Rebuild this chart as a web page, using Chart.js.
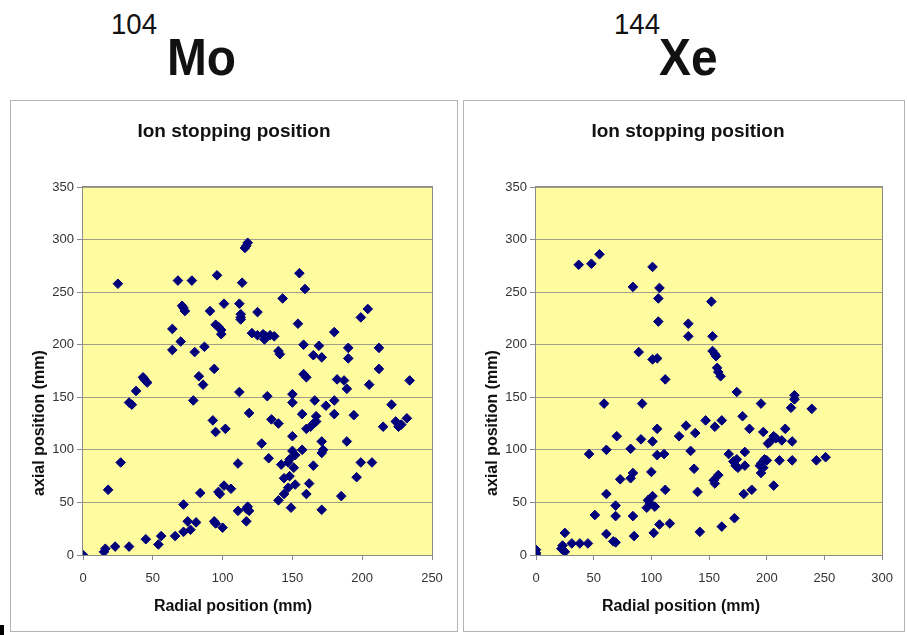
<!DOCTYPE html>
<html>
<head>
<meta charset="utf-8">
<script src="https://cdn.jsdelivr.net/npm/chart.js@4.4.1/dist/chart.umd.min.js"></script>
<style>
  body { margin: 0; background: #fff; width: 907px; height: 635px; position: relative; overflow: hidden; font-family: "Liberation Sans", Arial, sans-serif; }
  .mass { position: absolute; font-size: 30px; line-height: 1; color: #111; transform: scaleX(0.92); transform-origin: left top; }
  .elem { position: absolute; font-size: 52px; font-weight: bold; line-height: 1; color: #111; transform: scaleX(0.92); transform-origin: left top; }
  .box { position: absolute; top: 100px; height: 530px; border: 1px solid #b4b4b4; background: #fff; }
  .box canvas { display: block; }
  #mark { position: absolute; left: 0; top: 625px; width: 4px; height: 10px; background: #000; }
</style>
</head>
<body>
<span class="mass" style="left:111px; top:9px;">104</span>
<span class="elem" style="left:167px; top:31px;">Mo</span>
<span class="mass" style="left:614px; top:9px;">144</span>
<span class="elem" style="left:659px; top:31px;">Xe</span>

<div class="box" style="left:10px; width:446px;"><canvas id="moChart" width="446" height="530"></canvas></div>
<div class="box" style="left:463px; width:440px;"><canvas id="xeChart" width="440" height="530"></canvas></div>
<div id="mark"></div>

<script>
// Mo-104: posições de parada (radial mm, axial mm)
const moX = [0, 15, 16, 23, 33, 45, 54, 56, 66, 72, 77, 75, 81, 72, 84, 94, 95, 100, 97, 98, 101, 106, 111, 117, 117, 118, 119, 111, 27, 18,
  33, 35, 38, 43, 44, 46, 79, 83, 86, 93, 95, 102, 112, 119, 94, 118, 117, 116, 25, 68, 78, 96, 114, 71, 72, 73, 91, 101, 112,
  113, 113, 113, 125, 95, 97, 99, 99, 121, 125, 129, 131, 134, 137, 130, 64, 70, 64, 80, 87,
  155, 159, 143, 154, 204, 199, 180, 140, 141, 158, 169, 165, 171, 190, 190, 212, 212, 158, 160, 182, 187, 189, 205, 234,
  132, 150, 150, 166, 174, 180, 221, 157, 180, 194, 135, 140, 167, 167, 165, 163, 160, 215, 224, 226, 228, 232,
  128, 150, 171, 172, 171, 189, 157, 150, 152, 148, 147, 142, 151, 148, 144, 133, 165, 199, 207, 196, 162, 152, 147, 144, 140,
  160, 185, 149, 171];
const moY = [0, 3, 6, 8, 8, 15, 10, 18, 18, 22, 24, 32, 31, 48, 59, 32, 30, 26, 60, 58, 66, 63, 42, 32, 44, 46, 42, 87, 88, 62,
  145, 143, 156, 169, 167, 164, 147, 170, 162, 128, 117, 120, 155, 135, 177, 297, 294, 292, 258, 261, 261, 266, 259, 237, 235, 232, 232, 239, 239,
  229, 226, 224, 231, 219, 217, 214, 210, 211, 209, 210, 208, 209, 208, 205, 215, 203, 195, 193, 198,
  268, 253, 244, 220, 234, 226, 212, 194, 191, 200, 199, 190, 188, 197, 187, 197, 177, 172, 169, 167, 166, 158, 162, 166,
  151, 153, 145, 147, 142, 147, 143, 134, 134, 133, 129, 125, 132, 127, 125, 122, 120, 122, 127, 122, 124, 130,
  106, 113, 108, 100, 97, 108, 100, 99, 95, 91, 88, 86, 83, 75, 73, 92, 85, 88, 88, 74, 68, 67, 64, 58, 52,
  58, 56, 45, 43];

// Xe-144: posições de parada
const xeX = [0, 0, 0, 25, 23, 22, 25, 31, 38, 45, 37, 48, 55, 101, 84, 107, 106, 106, 132, 132, 89, 101, 105, 112, 152, 153,
  153, 155, 156, 157, 158, 160, 46, 59, 92, 70, 61, 82, 91, 101, 105, 124, 130, 105, 111, 73, 82, 84, 100, 61, 69, 51, 69, 84,
  101, 97, 99, 103, 96, 112, 61, 67, 69, 85, 102, 107, 116, 174, 195, 224, 224, 221, 239, 138, 147, 155, 161, 179, 185, 197,
  216, 206, 208, 203, 201, 213, 222, 134, 167, 181, 174, 171, 173, 175, 181, 198, 200, 195, 194, 197, 195, 211, 222, 243, 251,
  137, 158, 154, 155, 140, 180, 187, 206, 172, 161, 142];
const xeY = [0, 2, 5, 21, 9, 6, 3, 11, 11, 11, 276, 277, 286, 274, 255, 254, 244, 222, 220, 208, 193, 186, 187, 167, 241, 208,
  194, 191, 189, 178, 174, 170, 96, 144, 144, 113, 100, 101, 110, 108, 120, 113, 123, 95, 96, 72, 73, 78, 79, 58, 47, 38, 37, 37,
  56, 52, 49, 46, 45, 62, 20, 13, 12, 18, 21, 29, 30, 155, 144, 152, 148, 140, 139, 116, 128, 122, 128, 132, 120, 117,
  120, 113, 111, 108, 106, 109, 108, 99, 96, 98, 91, 89, 85, 83, 85, 91, 90, 87, 85, 83, 78, 90, 90, 90, 93,
  82, 76, 71, 68, 60, 58, 62, 66, 35, 27, 22];

const yTicksMax = 350;
const moXMax = 250;
const xeXMax = 300;

function toPoints(xs, ys) {
    return xs.map((x, i) => ({ x: x, y: ys[i] }));
}

// Fundo amarelo, borda da área e textos do painel
const panelPlugin = {
    id: 'panel',
    beforeDraw(chart) {
        const a = chart.chartArea;
        const ctx = chart.ctx;
        ctx.save();
        ctx.fillStyle = '#fffca0';
        ctx.fillRect(a.left, a.top, a.right - a.left, a.bottom - a.top);
        ctx.restore();
    },
    beforeDatasetsDraw(chart) {
        const a = chart.chartArea;
        const ctx = chart.ctx;
        ctx.save();
        ctx.strokeStyle = '#8a8a8a';
        ctx.lineWidth = 1;
        ctx.strokeRect(Math.round(a.left) - 0.5, Math.round(a.top) - 0.5, Math.round(a.right - a.left) + 1, Math.round(a.bottom - a.top) + 1);
        ctx.restore();
    },
    afterDraw(chart, args, opts) {
        const ctx = chart.ctx;
        ctx.save();
        ctx.fillStyle = '#111';
        ctx.textAlign = 'center';
        ctx.textBaseline = 'alphabetic';
        ctx.font = 'bold 19px "Liberation Sans", Arial, sans-serif';
        ctx.fillText(opts.title, opts.titleX, 36);
        ctx.font = 'bold 16px "Liberation Sans", Arial, sans-serif';
        ctx.fillText(opts.xTitle, opts.xTitleX, 510);
        ctx.translate(33, 322);
        ctx.rotate(-Math.PI / 2);
        ctx.fillText(opts.yTitle, 0, 0);
        ctx.restore();
    }
};

function buildChart(id, points, xMax, width, titleX, xTitleX) {
    const ctx = document.getElementById(id).getContext('2d');
    return new Chart(ctx, {
        type: 'scatter',
        data: {
            datasets: [{
                data: points,
                pointStyle: 'rectRot',
                pointRadius: 4.8,
                backgroundColor: '#00007a',
                borderColor: '#00007a',
                borderWidth: 1
            }]
        },
        options: {
            responsive: false,
            animation: false,
            layout: { padding: { top: 86, right: width - 421, bottom: 0, left: 0 } },
            plugins: {
                legend: { display: false },
                tooltip: { enabled: false },
                panel: {
                    title: 'Ion stopping position',
                    titleX: titleX,
                    xTitle: 'Radial position (mm)',
                    xTitleX: xTitleX,
                    yTitle: 'axial position (mm)'
                }
            },
            scales: {
                x: {
                    type: 'linear',
                    min: 0,
                    max: xMax,
                    afterFit: (s) => { s.height = 76; },
                    ticks: { stepSize: 50, color: '#333', padding: 11, font: { size: 13, family: '"Liberation Sans", Arial, sans-serif' } },
                    grid: { drawOnChartArea: false, drawTicks: true, tickLength: 5, color: '#8a8a8a' },
                    border: { display: false }
                },
                y: {
                    min: 0,
                    max: yTicksMax,
                    afterFit: (s) => { s.width = 72; },
                    ticks: { stepSize: 50, color: '#333', padding: 3, font: { size: 13, family: '"Liberation Sans", Arial, sans-serif' } },
                    grid: { color: '#a3a08a', tickColor: '#8a8a8a', tickLength: 6 },
                    border: { display: false }
                }
            }
        },
        plugins: [panelPlugin]
    });
}

window.onload = function() {
    buildChart('moChart', toPoints(moX, moY), moXMax, 446, 223, 222);
    buildChart('xeChart', toPoints(xeX, xeY), xeXMax, 440, 224, 217);
};
</script>
</body>
</html>
